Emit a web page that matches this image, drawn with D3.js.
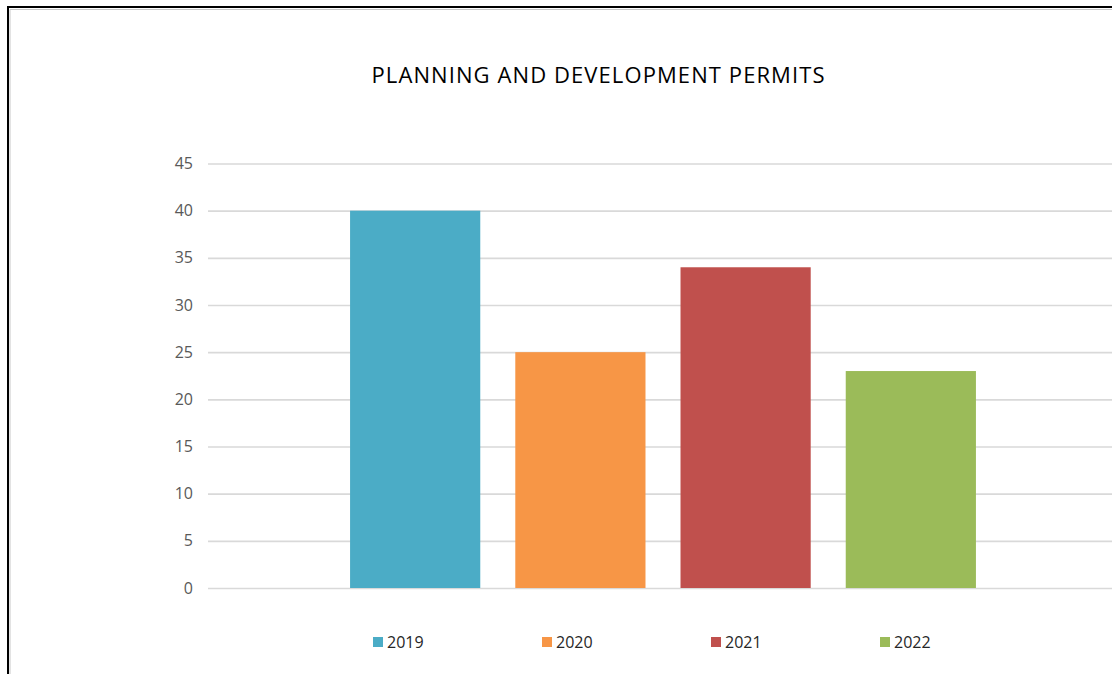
<!DOCTYPE html>
<html>
<head>
<meta charset="utf-8">
<script src="https://cdn.jsdelivr.net/npm/d3@7"></script>
<style>
  html, body { margin: 0; padding: 0; background: #fff; overflow: hidden; }
  svg { display: block; font-family: "Open Sans", sans-serif; }
</style>
</head>
<body>
<div id="chart"></div>
<script>
// chart data
const category = ["Permits"];
const years = ["2019", "2020", "2021", "2022"];
const permits = [40, 25, 34, 23];
const yTicks = [0, 5, 10, 15, 20, 25, 30, 35, 40, 45];
const colors = ["#4BACC6", "#F79646", "#C0504D", "#9BBB59"];

const width = 1112, height = 674;

const svg = d3.select('#chart')
    .append('svg')
    .attr('width', width)
    .attr('height', height);

// chart frame (only top and left edges visible)
svg.append('rect')
    .attr('x', 8).attr('y', 7)
    .attr('width', 1200).attr('height', 800)
    .attr('fill', 'none')
    .attr('stroke', '#000')
    .attr('stroke-width', 2);
svg.append('path')
    .attr('d', 'M10,700V9.5H1200')
    .attr('fill', 'none')
    .attr('stroke', '#c8c8c8')
    .attr('stroke-width', 1);

// scales
const plotLeft = 208, plotRight = 1118;
const y = d3.scaleLinear().domain([0, 45]).range([588, 163.5]);
const x0 = d3.scaleBand().domain(category).range([plotLeft, plotRight]).padding(0.185);
const x1 = d3.scaleBand().domain(years).range([0, x0.bandwidth()]).paddingInner(0.212);

// gridlines + y labels
const yAxis = d3.axisLeft(y)
    .tickValues(yTicks)
    .tickSize(-(plotRight - plotLeft))
    .tickPadding(15);

const gy = svg.append('g')
    .attr('transform', `translate(${plotLeft},0)`)
    .call(yAxis);
gy.select('.domain').remove();
gy.selectAll('.tick line')
    .attr('stroke', '#d9d9d9')
    .attr('stroke-width', 1.6);
gy.selectAll('.tick text')
    .attr('fill', '#595959')
    .style('font-size', '16px')
    .style('font-family', '"Open Sans", sans-serif');

// bars
const rows = years.map((yr, i) => ({ year: yr, value: permits[i], color: colors[i] }));
svg.append('g')
    .attr('transform', `translate(${x0(category[0])},0)`)
    .selectAll('rect')
    .data(rows)
    .join('rect')
    .attr('x', d => x1(d.year))
    .attr('y', d => y(d.value))
    .attr('width', x1.bandwidth())
    .attr('height', d => y(0) - y(d.value))
    .attr('fill', d => d.color);

// title
svg.append('text')
    .attr('x', 598)
    .attr('y', 83)
    .attr('text-anchor', 'middle')
    .attr('textLength', 453)
    .attr('lengthAdjust', 'spacing')
    .style('font-size', '22px')
    .attr('fill', '#000')
    .text('PLANNING AND DEVELOPMENT PERMITS');

// legend
const legendX = d3.scalePoint().domain(years).range([373, 880]);
const lg = svg.append('g')
    .selectAll('g')
    .data(rows)
    .join('g')
    .attr('transform', d => `translate(${legendX(d.year)},637)`);
lg.append('rect')
    .attr('width', 10).attr('height', 10)
    .attr('fill', d => d.color);
lg.append('text')
    .attr('x', 14)
    .attr('y', 10.5)
    .style('font-size', '16px')
    .attr('fill', '#262626')
    .text(d => d.year);
</script>
</body>
</html>
